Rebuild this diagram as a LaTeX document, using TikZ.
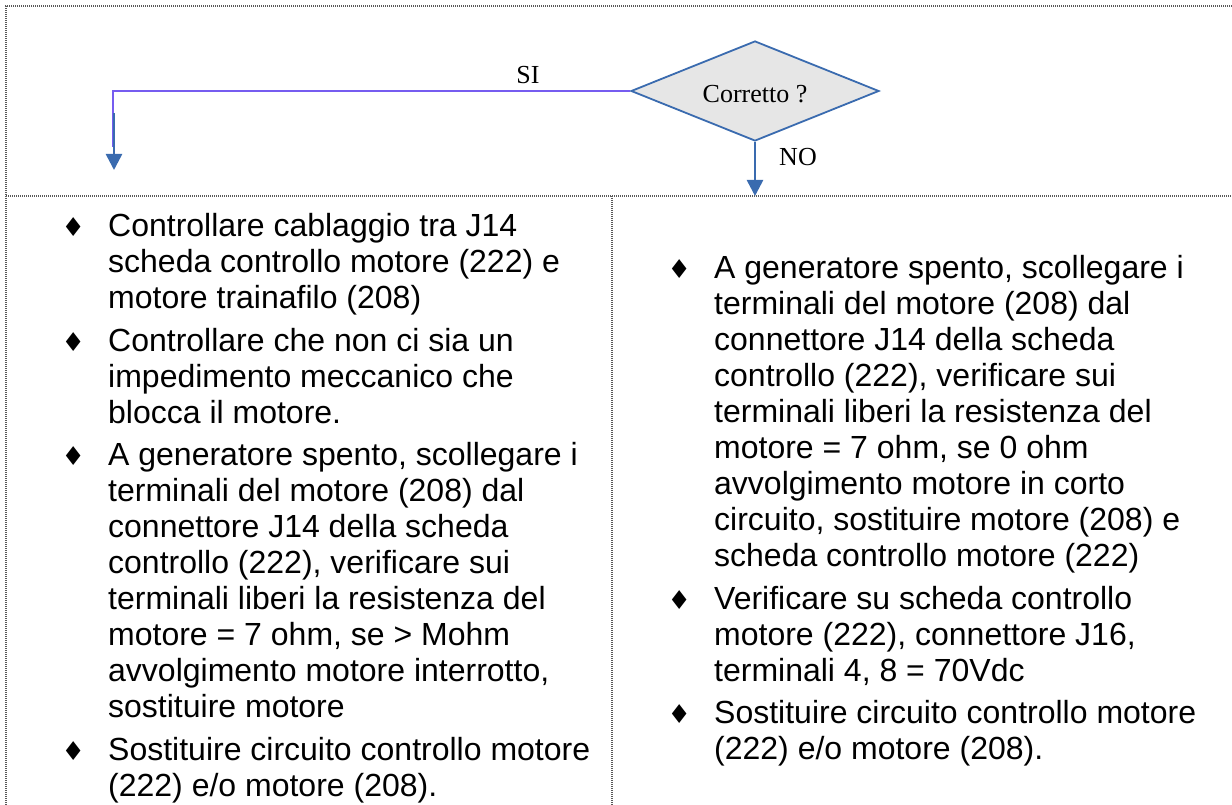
\documentclass[tikz,border=0pt]{standalone}
\usepackage{fontspec}
\setmainfont{Liberation Sans}
\newfontfamily\serifa{Liberation Serif}
\newfontfamily\simboli{DejaVu Sans}
\usetikzlibrary{positioning,shapes.geometric,arrows.meta}

\definecolor{bluscuro}{RGB}{58,107,175}
\definecolor{viola}{RGB}{118,92,240}
\definecolor{grigiodiam}{RGB}{230,230,230}

\newcommand{\punto}{\makebox[20pt]{\simboli\fontsize{26}{26}\selectfont ♦}\hspace{25pt}}

\tikzset{
  cornice/.style = {draw=black!65, line width=1.2pt, dash pattern=on 1.2pt off 0.8pt},
  voce/.style = {anchor=north west, inner sep=0pt, font=\fontsize{32}{36}\selectfont},
  etichetta/.style = {inner sep=0pt, font=\serifa\fontsize{26}{26}\selectfont},
  freccia/.style = {draw=bluscuro, line width=2.6pt, -{Triangle[width=16pt,length=16pt]}}
}

\begin{document}
\begin{tikzpicture}[x=1pt, y=-1pt]
	\useasboundingbox (0,0) rectangle (1232,805);
	% cornice della tabella
	\draw[cornice] (1232,6) -- (6,6) -- (6,805);
	\draw[cornice] (6,196) -- (1232,196);
	\draw[cornice] (612,196) -- (612,805);

	% decisione
	\node[diamond, draw=bluscuro, line width=1.8pt, fill=grigiodiam, minimum width=248pt, minimum height=100pt, inner sep=0pt] (corretto) at (755,91) {};
	\node[etichetta] (testocorretto) at (755,94) {Corretto ?};
	\coordinate (angolo) at (113,91);
	\coordinate (sifine) at (113,147);
	\coordinate (siinizio) at (114,113);
	\coordinate (sipunta) at (114,170);
	\coordinate (nopunta) at (755,196);
	\draw[viola, line width=1.5pt] (corretto.west) -- (angolo) -- (sifine);
	\draw[freccia] (siinizio) -- (sipunta);
	\draw[freccia] (corretto.south) -- (nopunta);
	\node[etichetta] (si) at (528,75) {SI};
	\node[etichetta] (no) at (798,157) {NO};

	% colonna sinistra
	\node[voce] (s1) at (108,211.5) {\begin{tabular}{@{}l@{}}\llap{\punto}Controllare cablaggio tra J14\\ scheda controllo motore (222) e\\ motore trainafilo (208)\end{tabular}};
	\node[voce, below=6pt of s1.south west, anchor=north west] (s2) {\begin{tabular}{@{}l@{}}\llap{\punto}Controllare che non ci sia un\\ impedimento meccanico che\\ blocca il motore.\end{tabular}};
	\node[voce, below=6pt of s2.south west, anchor=north west] (s3) {\begin{tabular}{@{}l@{}}\llap{\punto}A generatore spento, scollegare i\\ terminali del motore (208) dal\\ connettore J14 della scheda\\ controllo (222), verificare sui\\ terminali liberi la resistenza del\\ motore = 7 ohm, se > Mohm\\ avvolgimento motore interrotto,\\ sostituire motore\end{tabular}};
	\node[voce, below=6pt of s3.south west, anchor=north west] (s4) {\begin{tabular}{@{}l@{}}\llap{\punto}Sostituire circuito controllo motore\\ (222) e/o motore (208).\end{tabular}};

	% colonna destra
	\node[voce] (d1) at (714,253.5) {\begin{tabular}{@{}l@{}}\llap{\punto}A generatore spento, scollegare i\\ terminali del motore (208) dal\\ connettore J14 della scheda\\ controllo (222), verificare sui\\ terminali liberi la resistenza del\\ motore = 7 ohm, se 0 ohm\\ avvolgimento motore in corto\\ circuito, sostituire motore (208) e\\ scheda controllo motore (222)\end{tabular}};
	\node[voce, below=6pt of d1.south west, anchor=north west] (d2) {\begin{tabular}{@{}l@{}}\llap{\punto}Verificare su scheda controllo\\ motore (222), connettore J16,\\ terminali 4, 8 = 70Vdc\end{tabular}};
	\node[voce, below=6pt of d2.south west, anchor=north west] (d3) {\begin{tabular}{@{}l@{}}\llap{\punto}Sostituire circuito controllo motore\\ (222) e/o motore (208).\end{tabular}};
\end{tikzpicture}
\end{document}
